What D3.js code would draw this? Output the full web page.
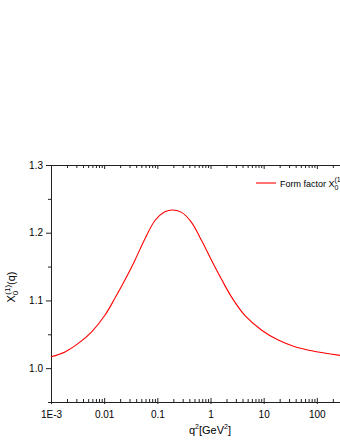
<!DOCTYPE html>
<html>
<head>
<meta charset="utf-8">
<script src="https://cdn.jsdelivr.net/npm/d3@7"></script>
<style>
  body { margin: 0; background: #fff; }
  svg { display: block; font-family: "Liberation Sans", Arial, sans-serif; }
</style>
</head>
<body>
<script>
// values: q^2 (GeV^2) and X_0^(1)(q)
var q2 = [0.001, 0.00183, 0.00326, 0.00582, 0.0104, 0.016, 0.0247, 0.038, 0.0586, 0.0904, 0.139, 0.2, 0.287, 0.442, 0.684, 1.05, 1.63, 2.51, 4.46, 9.19, 18.8, 38.8, 80, 272];
var formFactor = [1.0167, 1.024, 1.0365, 1.0537, 1.0785, 1.1035, 1.1305, 1.1595, 1.191, 1.218, 1.231, 1.2335, 1.230, 1.215, 1.188, 1.159, 1.1305, 1.1045, 1.0775, 1.056, 1.0414, 1.0315, 1.0256, 1.0188];
var xTicks = [0.001, 0.01, 0.1, 1, 10, 100];
var xTickLabels = ["1E-3", "0.01", "0.1", "1", "10", "100"];
var yTicks = [1.0, 1.1, 1.2, 1.3];
var yMinor = [0.95, 1.05, 1.15, 1.25];

var width = 340, height = 440;
var mLeft = 51, mTop = 165, mBottom = 402, mRight = 370;

var svg = d3.select("body").append("svg")
    .attr("width", width)
    .attr("height", height);

var x = d3.scaleLog().domain([0.001, 1000]).range([mLeft, mRight]);
var y = d3.scaleLinear().domain([0.95, 1.3]).range([mBottom, mTop]);

// minor ticks on the log axis: 2..9 in every decade
var xMinor = [];
for (var e = -3; e < 3; e++) {
  for (var m = 2; m <= 9; m++) xMinor.push(m * Math.pow(10, e));
}

var axisColor = "#222";

function styleAxis(g) {
  g.selectAll("path, line").attr("stroke", axisColor).attr("stroke-width", 1);
  g.selectAll("text").attr("fill", "#000").attr("font-size", "10px");
}

// bottom axis
svg.append("g")
    .attr("transform", "translate(0," + mBottom + ")")
    .call(d3.axisBottom(x).tickValues(xTicks).tickSize(2).tickPadding(7).tickSizeOuter(0)
      .tickFormat(function(d, i) { return xTickLabels[i]; }))
    .call(styleAxis);
svg.append("g")
    .attr("transform", "translate(0," + mBottom + ")")
    .call(d3.axisBottom(x).tickValues(xTicks).tickSize(-4).tickFormat(""))
    .call(styleAxis)
    .select(".domain").remove();
svg.append("g")
    .attr("transform", "translate(0," + mBottom + ")")
    .call(d3.axisBottom(x).tickValues(xMinor).tickSize(-3).tickFormat(""))
    .call(styleAxis)
    .select(".domain").remove();

// top axis (ticks pointing down)
svg.append("g")
    .attr("transform", "translate(0," + mTop + ")")
    .call(d3.axisTop(x).tickValues(xTicks).tickSize(-4).tickFormat("").tickSizeOuter(0))
    .call(styleAxis);
svg.append("g")
    .attr("transform", "translate(0," + mTop + ")")
    .call(d3.axisTop(x).tickValues(xMinor).tickSize(-3).tickFormat(""))
    .call(styleAxis)
    .select(".domain").remove();

// left axis
svg.append("g")
    .attr("transform", "translate(" + mLeft + ",0)")
    .call(d3.axisLeft(y).tickValues(yTicks).tickSize(5).tickPadding(3).tickSizeOuter(0)
      .tickFormat(d3.format(".1f")))
    .call(styleAxis);
svg.append("g")
    .attr("transform", "translate(" + mLeft + ",0)")
    .call(d3.axisLeft(y).tickValues(yMinor).tickSize(3).tickFormat(""))
    .call(styleAxis)
    .select(".domain").remove();

// curve
var pts = q2.map(function(d, i) { return [d, formFactor[i]]; });
var line = d3.line()
    .x(function(d) { return x(d[0]); })
    .y(function(d) { return y(d[1]); })
    .curve(d3.curveCatmullRom.alpha(0.5));

svg.append("path")
    .datum(pts)
    .attr("d", line)
    .attr("fill", "none")
    .attr("stroke", "#ff0000")
    .attr("stroke-width", 1.1);

// legend
svg.append("line")
    .attr("x1", 256).attr("x2", 276)
    .attr("y1", 183).attr("y2", 183)
    .attr("stroke", "#ff0000").attr("stroke-width", 1.1);
var lt = svg.append("text")
    .attr("x", 280).attr("y", 186.5)
    .attr("font-size", "9px")
    .attr("fill", "#000");
lt.append("tspan").text("Form factor X");
lt.append("tspan").attr("font-size", "7px").attr("dy", 3).text("0");
lt.append("tspan").attr("font-size", "7px").attr("dx", -4).attr("dy", -8).text("(1)");

// y axis title
var yt = svg.append("text")
    .attr("transform", "translate(15,287) rotate(-90)")
    .attr("text-anchor", "middle")
    .attr("font-size", "11px")
    .attr("fill", "#000");
yt.append("tspan").text("X");
yt.append("tspan").attr("font-size", "8px").attr("dy", 3).text("0");
yt.append("tspan").attr("font-size", "8px").attr("dx", -4).attr("dy", -8).text("(1)");
yt.append("tspan").attr("dy", 5).text("(q)");

// x axis title
var xt = svg.append("text")
    .attr("x", 210).attr("y", 434)
    .attr("text-anchor", "middle")
    .attr("font-size", "11px")
    .attr("fill", "#000");
xt.append("tspan").text("q");
xt.append("tspan").attr("font-size", "7px").attr("dy", -5).text("2");
xt.append("tspan").attr("dy", 5).text("[GeV");
xt.append("tspan").attr("font-size", "7px").attr("dy", -5).text("2");
xt.append("tspan").attr("dy", 5).text("]");
</script>
</body>
</html>
